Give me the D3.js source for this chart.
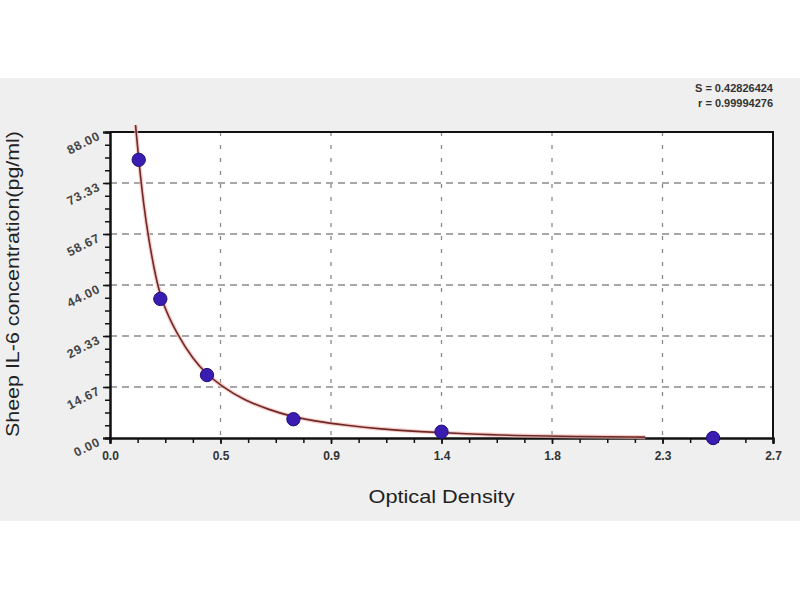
<!DOCTYPE html>
<html>
<head>
<meta charset="utf-8">
<script src="https://cdn.jsdelivr.net/npm/d3@7"></script>
<style>
  body { margin: 0; background: #fff; }
  svg text { font-family: "Liberation Sans", Arial, sans-serif; }
</style>
</head>
<body>
<div id="chart"></div>
<script>
// standard points (optical density vs concentration)
const odValues = [0.117, 0.205, 0.395, 0.747, 1.35, 2.456];
const concValues = [80.0, 40.0, 18.1, 5.4, 1.8, 0.0];

// fitted curve
const curveOd = [0.104, 0.117, 0.137, 0.158, 0.178, 0.205, 0.273, 0.341, 0.395, 0.449, 0.544, 0.652, 0.733, 0.828, 0.964, 1.099, 1.262, 1.451, 1.64, 1.9, 2.18];
const curveConc = [90.0, 80.0, 67.0, 57.0, 49.3, 40.0, 29.7, 22.4, 18.3, 15.2, 10.9, 8.05, 6.3, 4.9, 3.6, 2.6, 1.8, 1.2, 0.7, 0.4, 0.25];

const xTicks = [0, 0.45, 0.9, 1.35, 1.8, 2.25, 2.7];
const xTickLabels = ["0.0", "0.5", "0.9", "1.4", "1.8", "2.3", "2.7"];
const yTicks = [0, 14.667, 29.333, 44, 58.667, 73.333, 88];
const yTickLabels = ["0.00", "14.67", "29.33", "44.00", "58.67", "73.33", "88.00"];

const statLines = ["S = 0.42826424", "r = 0.99994276"];
const xTitle = "Optical Density";
const yTitle = "Sheep IL-6 concentration(pg/ml)";

const width = 800,
    height = 600;
const plot = { left: 110, right: 773, top: 132, bottom: 438 };

const svg = d3.select("#chart")
    .append("svg")
    .attr("width", width)
    .attr("height", height);

// grey panel behind the chart
svg.append("rect")
    .attr("x", 0).attr("y", 78)
    .attr("width", width).attr("height", 443)
    .attr("fill", "#efefef");

svg.append("rect")
    .attr("x", plot.left).attr("y", plot.top)
    .attr("width", plot.right - plot.left).attr("height", plot.bottom - plot.top)
    .attr("fill", "#fff");

const x = d3.scaleLinear().domain([0, 2.7]).range([plot.left, plot.right]);
const y = d3.scaleLinear().domain([0, 88]).range([plot.bottom, plot.top]);

// grid lines
const grid = svg.append("g").attr("class", "grid");
grid.selectAll("line.hgrid")
    .data(yTicks.slice(1, -1))
    .enter()
    .append("line")
    .attr("class", "hgrid")
    .attr("x1", plot.left).attr("x2", plot.right)
    .attr("y1", d => y(d)).attr("y2", d => y(d))
    .attr("stroke", "#8a8a8a")
    .attr("stroke-width", 1.3)
    .attr("stroke-dasharray", "7,5");

grid.selectAll("line.vgrid")
    .data(xTicks.slice(1, -1))
    .enter()
    .append("line")
    .attr("class", "vgrid")
    .attr("x1", d => x(d)).attr("x2", d => x(d))
    .attr("y1", plot.top).attr("y2", plot.bottom)
    .attr("stroke", "#8a8a8a")
    .attr("stroke-width", 1.3)
    .attr("stroke-dasharray", "4,9");

// frame on top and right
svg.append("path")
    .attr("d", "M" + plot.left + "," + plot.top + "H" + plot.right + "V" + plot.bottom)
    .attr("fill", "none")
    .attr("stroke", "#111")
    .attr("stroke-width", 2);

// minor ticks
const xMinor = d3.range(0, 25).map(i => i * 2.7 / 24);
const yMinor = d3.range(0, 25).map(i => i * 88 / 24);

const xAxis = svg.append("g")
    .attr("transform", "translate(0," + plot.bottom + ")")
    .call(d3.axisBottom(x).tickValues(xMinor).tickSize(5).tickFormat(""));
xAxis.append("g")
    .call(d3.axisBottom(x).tickValues(xTicks).tickSize(6)
        .tickFormat((d, i) => xTickLabels[i]));

const yAxis = svg.append("g")
    .attr("transform", "translate(" + plot.left + ",0)")
    .call(d3.axisLeft(y).tickValues(yMinor).tickSize(5).tickFormat(""));
yAxis.append("g")
    .call(d3.axisLeft(y).tickValues(yTicks).tickSize(7)
        .tickFormat((d, i) => yTickLabels[i]));

svg.selectAll(".domain")
    .attr("stroke", "#111")
    .attr("stroke-width", 2);
svg.selectAll(".tick line")
    .attr("stroke", "#111")
    .attr("stroke-width", 1.5);

xAxis.selectAll("text")
    .attr("font-size", 12)
    .attr("font-weight", "bold")
    .attr("fill", "#333")
    .attr("dy", "1.05em");

yAxis.selectAll("text")
    .attr("font-size", 12.5)
    .attr("font-weight", "bold")
    .attr("fill", "#444")
    .attr("letter-spacing", 0.8)
    .attr("text-anchor", "end")
    .attr("x", -12)
    .attr("dy", "0.55em")
    .attr("transform", "rotate(-27,-12,0)");

// fitted curve
const fitData = curveOd.map((d, i) => [d, curveConc[i]]);
const line = d3.line()
    .x(d => x(d[0]))
    .y(d => y(d[1]))
    .curve(d3.curveBasis);

svg.append("path")
    .datum(fitData)
    .attr("d", line)
    .attr("fill", "none")
    .attr("stroke", "#f4b8b0")
    .attr("stroke-opacity", 0.7)
    .attr("stroke-width", 4);

svg.append("path")
    .datum(fitData)
    .attr("d", line)
    .attr("fill", "none")
    .attr("stroke", "#6e2a2a")
    .attr("stroke-width", 1.6);

// standard points
const points = odValues.map((d, i) => [d, concValues[i]]);
svg.selectAll("path.point")
    .data(points)
    .enter()
    .append("path")
    .attr("class", "point")
    .attr("d", d3.symbol().type(d3.symbolCircle).size(140))
    .attr("transform", d => "translate(" + x(d[0]) + "," + y(d[1]) + ")")
    .attr("fill", "#3a1cb0")
    .attr("stroke", "#22107a")
    .attr("stroke-width", 1);

// axis titles
svg.append("text")
    .attr("x", (plot.left + plot.right) / 2)
    .attr("y", 503)
    .attr("text-anchor", "middle")
    .attr("font-size", 19)
    .attr("fill", "#222")
    .attr("textLength", 146)
    .attr("lengthAdjust", "spacingAndGlyphs")
    .text(xTitle);

svg.append("text")
    .attr("transform", "translate(19,284) rotate(-90)")
    .attr("text-anchor", "middle")
    .attr("font-size", 19)
    .attr("fill", "#222")
    .attr("textLength", 306)
    .attr("lengthAdjust", "spacingAndGlyphs")
    .text(yTitle);

// fit statistics
svg.selectAll("text.stat")
    .data(statLines)
    .enter()
    .append("text")
    .attr("class", "stat")
    .attr("x", plot.right)
    .attr("y", (d, i) => 92 + i * 15)
    .attr("text-anchor", "end")
    .attr("font-size", 11)
    .attr("font-weight", "bold")
    .attr("fill", "#333")
    .text(d => d);
</script>
</body>
</html>
